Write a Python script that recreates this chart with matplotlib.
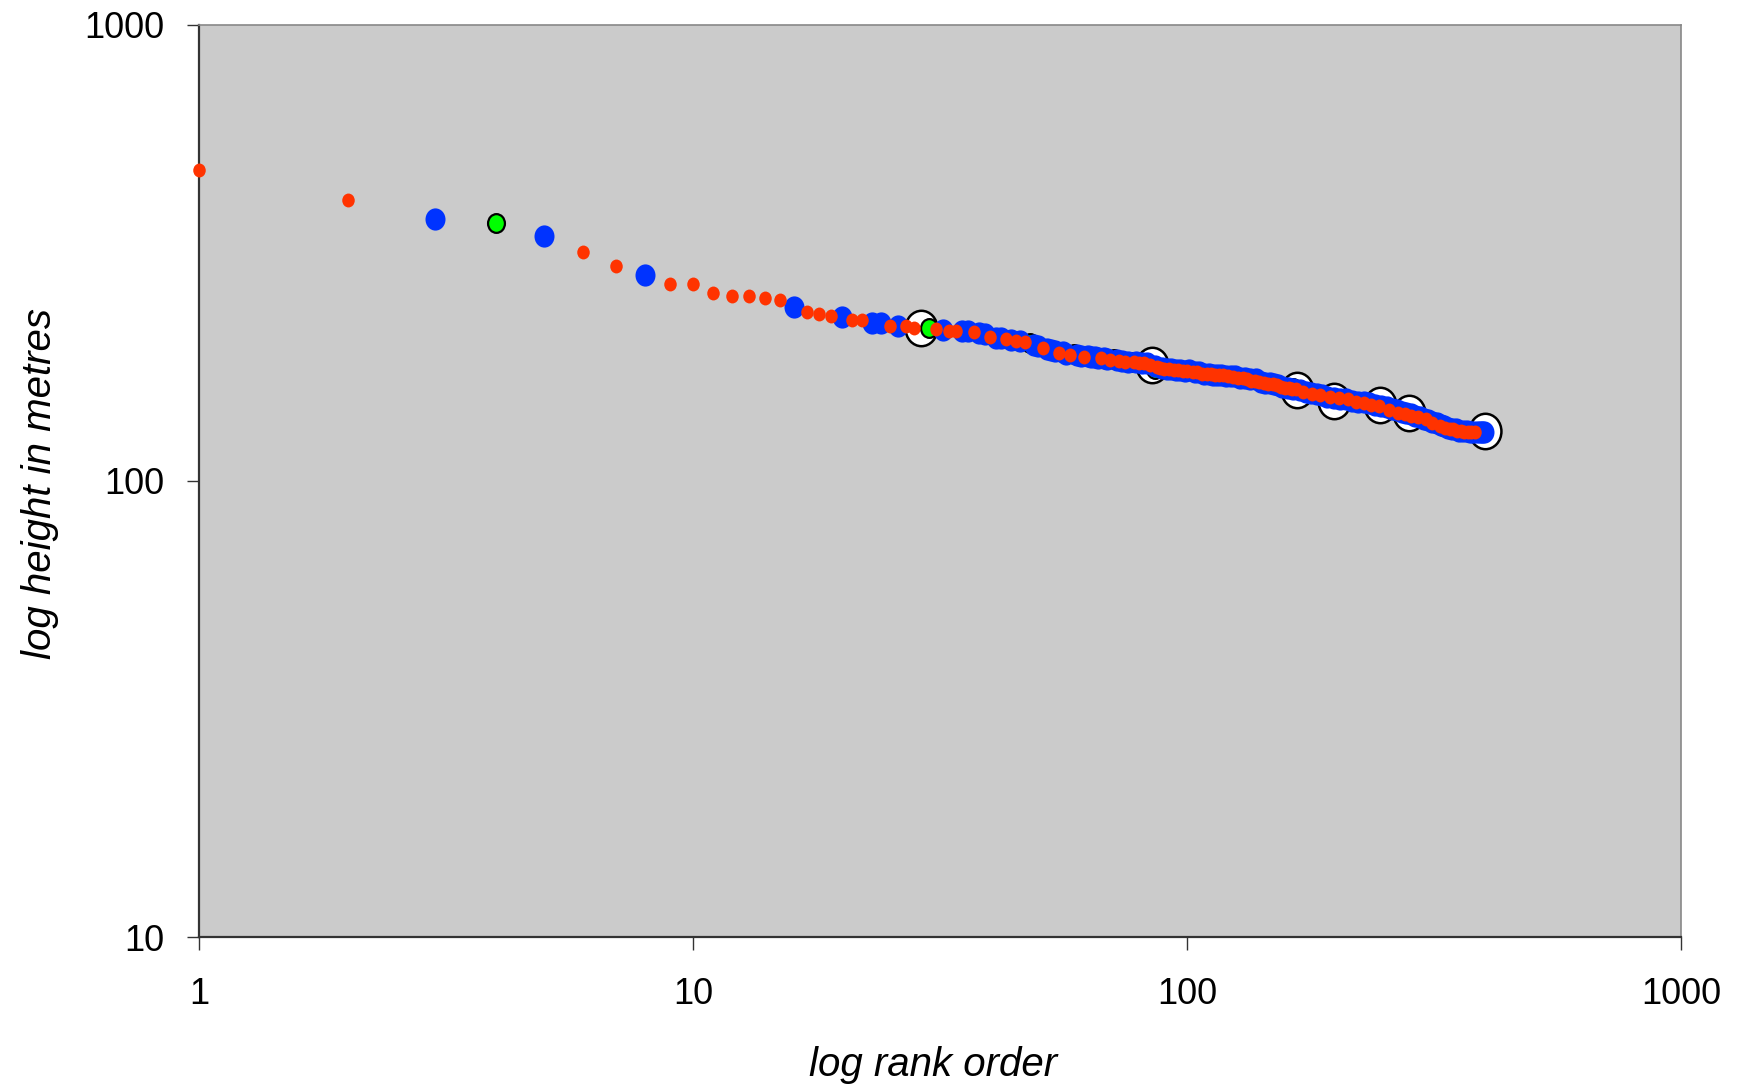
import matplotlib.pyplot as plt
from matplotlib.markers import MarkerStyle
from matplotlib.transforms import Affine2D

plt.rcParams['font.family'] = ['Liberation Sans', 'DejaVu Sans']

# rank order (by height) and height in metres, one pair of lists per group
white_rank = [29, 85, 167, 198, 246, 282, 402]
white_height = [216, 180, 158, 150, 147, 141, 128.5]

green_rank = [4, 30, 48, 59, 71, 77, 86, 164]
green_height = [367, 216, 201, 190, 185, 182, 176, 160]

blue_rank = [3, 5, 8, 16, 20, 23, 24, 26, 32, 35, 36, 38, 39, 41, 42, 44, 46, 49, 50,
             52, 53, 54, 56, 57, 60, 61, 63, 64, 65, 66, 68, 69, 72, 74, 76, 79, 81, 83,
             86, 89, 91, 93, 95, 97, 99, 101, 104, 106, 108, 111, 113, 115, 117, 120, 123,
             125, 128, 131, 134, 138, 141, 144, 147, 150, 153, 156, 160, 164, 169, 174,
             178, 183, 188, 192, 198, 204, 210, 216, 222, 228, 234, 240, 247, 254, 260,
             266, 272, 278, 284, 290, 296, 302, 308, 314, 320, 326, 332, 338, 344, 350,
             356, 362, 368, 374, 380, 386, 392, 396, 400]
blue_height = [375, 345, 283, 241, 229, 222, 222, 219, 214, 213, 213, 211, 210, 206, 206,
               204, 203, 199, 198, 195, 194, 193, 192, 190, 189, 188, 188, 187, 187, 186,
               186, 185, 184, 183, 182, 182, 181, 181, 179, 177, 176, 176, 175, 175, 174,
               175, 173, 173, 172, 172, 171, 171, 171, 170, 170, 170, 168, 168, 167, 167,
               165, 164, 164, 163, 162, 161, 160, 159, 158, 157, 156, 155, 154, 153, 152,
               151, 151, 150, 149, 149, 148, 147, 146, 145, 144, 143, 142, 141, 140, 139,
               138, 137, 136, 135, 134, 133, 132, 131, 130, 130, 129, 129, 129, 128, 128,
               128, 128, 128, 128]

red_rank = [1, 2, 6, 7, 9, 10, 11, 12, 13, 14, 15, 17, 18, 19, 21, 22, 25, 27, 28, 31, 33,
            34, 37, 40, 43, 45, 47, 51, 55, 58, 62, 67, 70, 73, 75, 78, 80, 82, 84, 87, 88,
            90, 92, 94, 96, 98, 100, 103, 105, 107, 110, 112, 114, 116, 118, 121, 124, 127,
            130, 132, 135, 137, 140, 143, 146, 149, 152, 155, 158, 161, 163, 166, 172, 179,
            186, 195, 203, 212, 220, 228, 236, 245, 256, 268, 276, 284, 293, 304, 314, 325,
            333, 340, 346, 352, 358, 364, 370, 376, 382]
red_height = [482, 414, 318, 296, 271, 271, 259, 255, 255, 252, 249, 235, 232, 230, 226,
              226, 219, 219, 217, 215, 213, 213, 212, 207, 205, 203, 202, 196, 191, 189,
              187, 186, 184, 183, 182, 182, 181, 181, 180, 178, 177, 176, 176, 175, 175,
              174, 174, 173, 173, 172, 172, 172, 171, 171, 171, 170, 169, 168, 168, 167,
              166, 166, 165, 164, 163, 163, 162, 161, 160, 160, 159, 159, 157, 155, 154,
              153, 152, 151, 149, 148, 147, 146, 143, 141, 140, 139, 138, 137, 134, 132,
              131, 130, 130, 129, 129, 128, 128, 128, 128]


def oval():
    # markers come out slightly taller than wide
    return MarkerStyle('o', transform=Affine2D().scale(0.9, 1.0))


fig = plt.figure(figsize=(17.38, 10.86), dpi=100)
ax = fig.add_axes([0.1145, 0.1372, 0.8527, 0.8398])
ax.set_facecolor('#cbcbcb')

ax.plot(white_rank, white_height, ls='none', marker=oval(), ms=25.5, mfc='white',
        mec='black', mew=1.8, zorder=3, clip_on=False)
ax.plot(green_rank, green_height, ls='none', marker=oval(), ms=13.5, mfc='#00ff00',
        mec='black', mew=1.6, zorder=4, clip_on=False)
ax.plot(blue_rank, blue_height, ls='none', marker=oval(), ms=16, mfc='#0033ff',
        mec='none', zorder=5, clip_on=False)
ax.plot(red_rank, red_height, ls='none', marker=oval(), ms=10, mfc='#ff3300',
        mec='none', zorder=6, clip_on=False)

ax.set_xscale('log')
ax.set_yscale('log')
ax.set_xlim(1, 1000)
ax.set_ylim(10, 1000)
ax.set_xticks([1, 10, 100, 1000], labels=['1', '10', '100', '1000'])
ax.set_yticks([10, 100, 1000], labels=['10', '100', '1000'])
ax.minorticks_off()

for side in ['left', 'bottom']:
    ax.spines[side].set_color('#333333')
    ax.spines[side].set_linewidth(1.6)
for side in ['top', 'right']:
    ax.spines[side].set_color('#888888')
    ax.spines[side].set_linewidth(1.2)

ax.tick_params(axis='x', direction='out', length=9, width=1, color='#333333',
               labelsize=26, pad=20)
ax.tick_params(axis='y', direction='out', length=9, width=1, color='#333333',
               labelsize=26, pad=16)

ax.set_xlabel('log rank order', fontsize=29, style='italic')
ax.set_ylabel('log height in metres', fontsize=29, style='italic')
ax.xaxis.set_label_coords(0.4953, -0.14)
ax.xaxis.label.set_va('center')
ax.yaxis.set_label_coords(-0.107, 0.4967)
ax.yaxis.label.set_va('center')

fig.savefig('out.png', dpi=100)
